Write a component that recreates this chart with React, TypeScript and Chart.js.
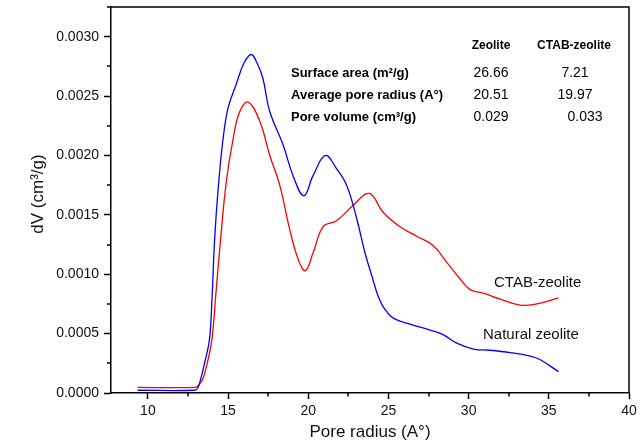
import React, { useEffect, useRef } from "react";
import { Chart, registerables } from "chart.js";

Chart.register(...registerables);

// Natural zeolite (blue)
const naturalRadius = [
  9.36, 12.9, 13.1, 13.3, 13.55, 13.84, 14.0, 14.16, 14.4, 14.68, 15.0, 15.51, 16.0, 16.45, 16.8, 17.17, 17.6,
  18.43, 19.05, 19.72, 20.3, 21.07, 21.76, 22.39, 23.0, 23.5, 24.0, 24.4, 24.8, 25.3, 26.34, 27.6, 28.43,
  29.26, 30.3, 31.34, 32.6, 33.84, 34.47, 35.6,
];
const naturalDV = [
  0.000023, 0.000023, 0.00004, 0.00012, 0.00026, 0.00045, 0.0008, 0.00129, 0.00175, 0.00213, 0.0024, 0.0026,
  0.00278, 0.00285, 0.00278, 0.00265, 0.00237, 0.00209, 0.00183, 0.00166, 0.00183, 0.002, 0.00189, 0.00175,
  0.00148, 0.0012, 0.00097, 0.0008, 0.0007, 0.00063, 0.00058, 0.00053, 0.00049, 0.00042, 0.00037, 0.00036,
  0.00034, 0.00031, 0.00028, 0.00018,
];

// CTAB-zeolite (red)
const ctabRadius = [
  9.36, 12.95, 13.2, 13.43, 13.7, 13.99, 14.25, 14.53, 14.89, 15.3, 15.7, 16.24, 16.97, 17.6, 18.22, 18.84,
  19.36, 19.82, 20.3, 20.93, 21.76, 22.8, 23.8, 24.68, 25.72, 26.76, 27.8, 28.64, 29.47, 30.1, 30.93, 31.97,
  33.2, 34.26, 35.6,
];
const ctabDV = [
  0.000048, 0.000048, 0.00007, 0.00012, 0.00025, 0.00045, 0.00085, 0.00129, 0.00178, 0.00213, 0.00236, 0.00245,
  0.00229, 0.002, 0.00175, 0.00138, 0.00113, 0.00103, 0.00118, 0.0014, 0.00145, 0.00158, 0.00168, 0.00152,
  0.0014, 0.00132, 0.00124, 0.0011, 0.00096, 0.00087, 0.00084, 0.00079, 0.00074, 0.00075, 0.0008,
];

const xTickValues = [10, 15, 20, 25, 30, 35, 40];
const xMinorTicks = [12.5, 17.5, 22.5, 27.5, 32.5, 37.5];
const yTickValues = [0, 0.0005, 0.001, 0.0015, 0.002, 0.0025, 0.003];
const yMinorTicks = [0.00025, 0.00075, 0.00125, 0.00175, 0.00225, 0.00275];

const tableHeaders = ["Zeolite", "CTAB-zeolite"];
const tableRows = ["Surface area (m²/g)", "Average pore radius (A°)", "Pore volume (cm³/g)"];
const zeoliteValues = ["26.66", "20.51", "0.029"];
const ctabValues = ["7.21", "19.97", "0.033"];
const seriesLabels = ["Natural zeolite", "CTAB-zeolite"];

const FONT = "Arial, 'Liberation Sans', Helvetica, sans-serif";

const toPoints = (xs: number[], ys: number[]) => xs.map((x, i) => ({ x, y: ys[i] }));

const overlayPlugin = {
  id: "overlay",
  afterDraw(chart: any) {
    const { ctx, chartArea, scales } = chart;
    const xs = scales.x;
    const ys = scales.y;
    ctx.save();
    // top and right border
    ctx.strokeStyle = "#000";
    ctx.lineWidth = 1.5;
    ctx.beginPath();
    ctx.moveTo(chartArea.left - 4, chartArea.top);
    ctx.lineTo(chartArea.right, chartArea.top);
    ctx.lineTo(chartArea.right, chartArea.bottom);
    ctx.stroke();
    // minor ticks
    ctx.beginPath();
    xMinorTicks.forEach((v) => {
      const px = Math.round(xs.getPixelForValue(v));
      ctx.moveTo(px, chartArea.bottom);
      ctx.lineTo(px, chartArea.bottom + 3.5);
    });
    yMinorTicks.forEach((v) => {
      const py = Math.round(ys.getPixelForValue(v));
      ctx.moveTo(chartArea.left, py);
      ctx.lineTo(chartArea.left - 4, py);
    });
    ctx.stroke();

    ctx.fillStyle = "#000";
    ctx.textBaseline = "middle";

    // table
    ctx.font = `bold 12px ${FONT}`;
    ctx.textAlign = "center";
    ctx.fillText(tableHeaders[0], 491, 46);
    ctx.fillText(tableHeaders[1], 574, 46);
    const rowY = [73, 95, 117];
    ctx.font = `bold 13px ${FONT}`;
    ctx.textAlign = "left";
    tableRows.forEach((r, i) => ctx.fillText(r, 291, rowY[i]));
    ctx.font = `14px ${FONT}`;
    ctx.textAlign = "center";
    const ctabX = [575, 575, 585];
    zeoliteValues.forEach((v, i) => ctx.fillText(v, 491, rowY[i]));
    ctabValues.forEach((v, i) => ctx.fillText(v, ctabX[i], rowY[i]));

    // series labels
    ctx.font = `15px ${FONT}`;
    ctx.textAlign = "left";
    ctx.fillStyle = "#111";
    ctx.fillText(seriesLabels[1], 494, 283);
    ctx.fillText(seriesLabels[0], 483, 335);

    // axis titles
    ctx.font = `17px ${FONT}`;
    ctx.textAlign = "center";
    ctx.fillText("Pore radius (A°)", (chartArea.left + chartArea.right) / 2, 432);
    ctx.save();
    ctx.translate(38, 194);
    ctx.rotate(-Math.PI / 2);
    ctx.fillText("dV (cm³/g)", 0, 0);
    ctx.restore();
    ctx.restore();
  },
};

export default function App() {
  const ref = useRef<HTMLCanvasElement | null>(null);
  useEffect(() => {
    if (!ref.current) return;
    const chart = new Chart(ref.current, {
      type: "line",
      data: {
        datasets: [
          {
            label: seriesLabels[0],
            data: toPoints(naturalRadius, naturalDV),
            borderColor: "#0000ff",
            borderWidth: 1.3,
            pointRadius: 0,
            fill: false,
            tension: 0.4,
          },
          {
            label: seriesLabels[1],
            data: toPoints(ctabRadius, ctabDV),
            borderColor: "#ff0000",
            borderWidth: 1.3,
            pointRadius: 0,
            fill: false,
            tension: 0.4,
          },
        ],
      },
      options: {
        animation: false,
        responsive: false,
        devicePixelRatio: 1,
        layout: { padding: { top: 7, right: 15, left: 0, bottom: 0 } },
        plugins: {
          legend: { display: false },
          tooltip: { enabled: false },
          title: { display: false },
        },
        scales: {
          x: {
            type: "linear",
            min: 7.7,
            max: 40,
            afterBuildTicks: (s: any) => {
              s.ticks = xTickValues.map((v) => ({ value: v }));
            },
            afterFit: (s: any) => {
              s.height = 53;
              s.paddingLeft = 0;
              s.paddingRight = 0;
            },
            ticks: {
              font: { family: FONT, size: 14 },
              color: "#111",
              padding: 4,
              maxRotation: 0,
              autoSkip: false,
              callback: (v: any) => String(v),
            },
            grid: {
              drawOnChartArea: false,
              drawTicks: true,
              tickLength: 6,
              tickColor: "#000",
              tickWidth: 1.5,
            },
            border: { color: "#000", width: 1.5 },
          },
          y: {
            type: "linear",
            min: 0,
            max: 0.00325,
            afterBuildTicks: (s: any) => {
              s.ticks = yTickValues.map((v) => ({ value: v }));
            },
            afterFit: (s: any) => {
              s.width = 111;
              s.paddingTop = 0;
              s.paddingBottom = 0;
            },
            ticks: {
              font: { family: FONT, size: 14 },
              color: "#111",
              padding: 5,
              autoSkip: false,
              callback: (v: any) => Number(v).toFixed(4),
            },
            grid: {
              drawOnChartArea: false,
              drawTicks: true,
              tickLength: 7,
              tickColor: "#000",
              tickWidth: 1.5,
            },
            border: { color: "#000", width: 1.5 },
          },
        },
      },
      plugins: [overlayPlugin],
    } as any);
    return () => chart.destroy();
  }, []);
  return (
    <div style={{ position: "absolute", left: 0, top: 0, width: 644, height: 446, background: "#fff" }}>
      <canvas ref={ref} width={644} height={446} style={{ display: "block", width: 644, height: 446 }} />
    </div>
  );
}
